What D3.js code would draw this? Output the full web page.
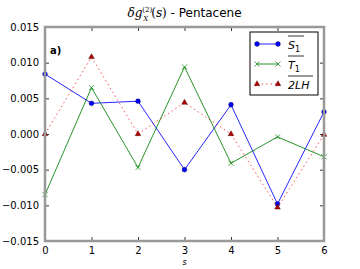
<!DOCTYPE html>
<meta charset="utf-8">
<head>
	<title>Pentacene</title>
</head>
<style>
	body { margin: 0; background: #fff; }
	text { font-family: "DejaVu Sans", sans-serif; }
</style>
<body>
<svg width="360" height="269"></svg>
<script src="https://cdnjs.cloudflare.com/ajax/libs/d3/7.8.5/d3.min.js"></script>
<script>
	var sValues = [0, 1, 2, 3, 4, 5, 6];
	var s1 = [0.0084, 0.0043, 0.0046, -0.0050, 0.0041, -0.0098, 0.0031];
	var t1 = [-0.0085, 0.0065, -0.0047, 0.0094, -0.0041, -0.0004, -0.0032];
	var lh2 = [0.0000, 0.0108, 0.0000, 0.0044, 0.0000, -0.0103, -0.0001];
	var yTicks = [-0.015, -0.010, -0.005, 0.000, 0.005, 0.010, 0.015];

	var svg = d3.select("svg"),
		margin = {top: 27, right: 36, bottom: 28, left: 45},
		width = svg.attr("width") - margin.left - margin.right,
		height = svg.attr("height") - margin.top - margin.bottom;

	var g = svg.append("g")
		.attr("transform", "translate(" + margin.left + "," + margin.top + ")");

	var x = d3.scaleLinear().domain([0, 6]).range([0, width]);
	var y = d3.scaleLinear().domain([-0.015, 0.015]).range([height, 0]);

	// axes, ticks inward on all four sides
	function styleAxis(a) {
		a.select(".domain").remove();
		a.selectAll(".tick line").attr("stroke", "#000").attr("stroke-width", 0.8);
		a.selectAll(".tick text").attr("font-size", 10).attr("fill", "#000")
			.attr("font-family", "DejaVu Sans");
	}
	g.append("g").attr("transform", "translate(0," + height + ")")
		.call(d3.axisBottom(x).tickValues(sValues).tickFormat(d3.format("d")).tickSizeInner(-4).tickPadding(6))
		.call(styleAxis);
	g.append("g")
		.call(d3.axisTop(x).tickValues(sValues).tickFormat("").tickSizeInner(-4))
		.call(styleAxis);
	g.append("g")
		.call(d3.axisLeft(y).tickValues(yTicks)
			.tickFormat(function(d) { return d3.format(".3f")(d).replace("-", "\u2212"); })
			.tickSizeInner(-4).tickPadding(6))
		.call(styleAxis);
	g.append("g").attr("transform", "translate(" + width + ",0)")
		.call(d3.axisRight(y).tickValues(yTicks).tickFormat("").tickSizeInner(-4))
		.call(styleAxis);

	var series = [
		{name: "S", sub: "1", values: s1, color: "#0000ff", marker: "circle", dash: null},
		{name: "T", sub: "1", values: t1, color: "#008000", marker: "x", dash: null},
		{name: "2LH", sub: "", values: lh2, color: "#ff0000", marker: "tri", dash: "1.5,3"}
	];

	var line = d3.line()
		.x(function(d, i) { return x(sValues[i]); })
		.y(function(d) { return y(d); });

	function drawMarker(sel, m, cx, cy) {
		if (m.marker === "circle") {
			sel.append("circle").attr("cx", cx).attr("cy", cy).attr("r", 2.4)
				.attr("fill", "#0000ff").attr("stroke", "#000033").attr("stroke-width", 0.4);
		} else if (m.marker === "x") {
			sel.append("path")
				.attr("d", "M" + (cx - 2.5) + "," + (cy - 2.5) + "L" + (cx + 2.5) + "," + (cy + 2.5) +
					"M" + (cx - 2.5) + "," + (cy + 2.5) + "L" + (cx + 2.5) + "," + (cy - 2.5))
				.attr("stroke", "#008000").attr("stroke-width", 0.7).attr("fill", "none");
		} else {
			sel.append("path")
				.attr("d", d3.symbol().type(d3.symbolTriangle).size(14)())
				.attr("transform", "translate(" + cx + "," + cy + ")")
				.attr("fill", "#b00000").attr("stroke", "#400000").attr("stroke-width", 0.4);
		}
	}

	var plot = g.append("g");
	series.forEach(function(sr) {
		plot.append("path")
			.datum(sr.values)
			.attr("d", line)
			.attr("fill", "none")
			.attr("stroke", sr.color)
			.attr("stroke-opacity", sr.dash ? 0.7 : 0.85)
			.attr("stroke-width", 1)
			.attr("stroke-dasharray", sr.dash);
		sr.values.forEach(function(v, i) {
			drawMarker(plot, sr, x(sValues[i]), y(v));
		});
	});

	// frame
	g.append("rect")
		.attr("width", width).attr("height", height)
		.attr("fill", "none").attr("stroke", "#999").attr("stroke-width", 2.5);

	// panel label
	g.append("text").attr("x", 5).attr("y", 27)
		.attr("font-size", 10).attr("font-weight", "bold").text("a)");

	// legend
	var lg = g.append("g").attr("transform", "translate(" + (width - 74) + ",5)");
	lg.append("rect").attr("width", 68).attr("height", 63)
		.attr("fill", "#fff").attr("stroke", "#000").attr("stroke-width", 1);
	series.forEach(function(sr, i) {
		var ly = 12 + i * 20;
		lg.append("line").attr("x1", 7).attr("x2", 28).attr("y1", ly).attr("y2", ly)
			.attr("stroke", sr.color).attr("stroke-opacity", sr.dash ? 0.7 : 0.85)
			.attr("stroke-dasharray", sr.dash);
		drawMarker(lg, sr, 7, ly);
		drawMarker(lg, sr, 28, ly);
		var t = lg.append("text").attr("x", 38).attr("y", ly + 5)
			.attr("font-family", "DejaVu Serif").attr("font-style", "italic").attr("font-size", 11);
		t.append("tspan").text(sr.name);
		if (sr.sub) t.append("tspan").attr("font-size", 8).attr("font-style", "normal").attr("dy", 3).text(sr.sub);
		var w = sr.sub ? 16 : 25;
		lg.append("line").attr("x1", 38).attr("x2", 38 + w).attr("y1", ly - 8).attr("y2", ly - 8)
			.attr("stroke", "#000").attr("stroke-width", 0.8);
	});

	// title
	var title = svg.append("text").attr("x", margin.left + width / 2).attr("y", 17)
		.attr("text-anchor", "middle").attr("font-size", 12);
	title.append("tspan").attr("font-family", "DejaVu Serif").attr("font-style", "italic").text("\u03b4g");
	title.append("tspan").attr("font-family", "DejaVu Serif").attr("font-size", 7).attr("dy", -5).text("(2)");
	title.append("tspan").attr("font-family", "DejaVu Serif").attr("font-style", "italic").attr("font-size", 7).attr("dx", -9).attr("dy", 9).text("X");
	title.append("tspan").attr("font-family", "DejaVu Serif").attr("dx", 3).attr("dy", -4).text("(");
	title.append("tspan").attr("font-family", "DejaVu Serif").attr("font-style", "italic").text("s");
	title.append("tspan").attr("font-family", "DejaVu Serif").text(")");
	title.append("tspan").text(" - Pentacene");

	// x label
	svg.append("text").attr("x", margin.left + width / 2).attr("y", 265)
		.attr("text-anchor", "middle").attr("font-family", "DejaVu Serif")
		.attr("font-style", "italic").attr("font-size", 8).text("s");
</script>
</body>
